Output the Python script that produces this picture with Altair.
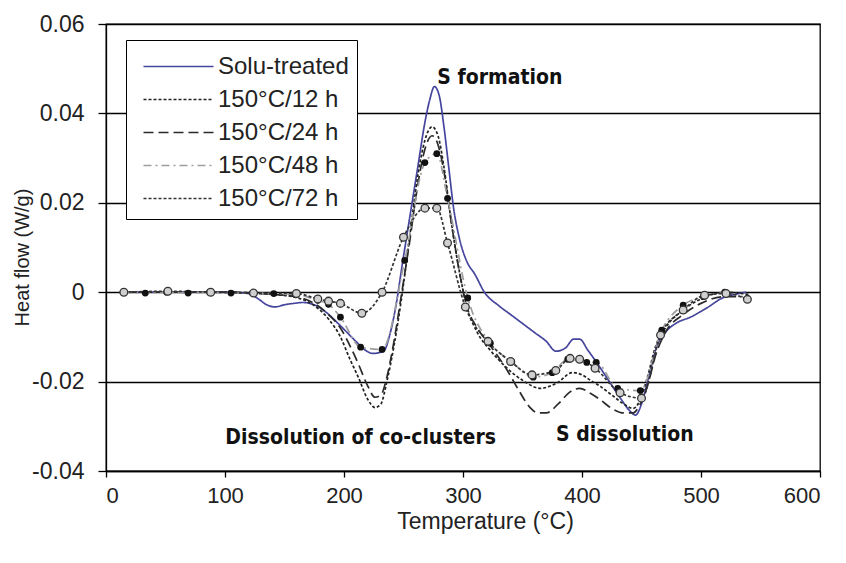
import altair as alt
import pandas as pd

SERIES = ["Solu-treated", "150°C/12 h", "150°C/24 h", "150°C/48 h", "150°C/72 h"]
COLORS = ["#45459e", "#222222", "#2a2a2a", "#9e9e9e", "#333333"]
DASHES = [[1, 0], [3, 2], [10, 5], [8, 4, 2, 4], [3, 2]]

T_solu = [15, 40, 70, 100, 120, 128, 135, 142, 150, 158, 165, 175, 185, 197, 210, 218, 224, 230, 234,
          238, 243, 250, 256, 262, 268, 272, 276, 280, 284, 288, 292, 297, 303, 310, 318, 330, 340, 350,
          360, 370, 378, 386, 393, 398, 405, 413, 423, 433, 440, 445, 450, 456, 463, 470, 480, 491, 505,
          518, 530, 538]
V_solu = [0, 0, 0, 0, -0.0003, -0.0015, -0.0028, -0.0033, -0.0028, -0.0025, -0.0023, -0.0028, -0.0045,
          -0.0075, -0.011, -0.013, -0.0137, -0.0135, -0.013, -0.010, -0.004, 0.008, 0.018, 0.028, 0.038,
          0.043, 0.046, 0.044, 0.037, 0.028, 0.019, 0.012, 0.007, 0.004, 0.0, -0.003, -0.005, -0.007,
          -0.009, -0.011, -0.0132, -0.0125, -0.0105, -0.0105, -0.013, -0.016, -0.020, -0.024, -0.0265,
          -0.0275, -0.025, -0.019, -0.012, -0.009, -0.0068, -0.0056, -0.0035, -0.0013, -0.0004, 0.0]

T_12 = [15, 50, 100, 140, 160, 175, 187, 197, 205, 212, 220, 226, 231, 236, 242, 248, 255, 262, 268, 274,
        279, 284, 290, 296, 303, 312, 323, 335, 350, 365, 379, 392, 400, 407, 415, 425, 435, 443, 449, 455,
        462, 470, 485, 500, 520, 540]
V_12 = [0, 0, 0, -0.0005, -0.0012, -0.003, -0.006, -0.010, -0.015, -0.019, -0.024, -0.0258, -0.025, -0.020,
        -0.012, -0.002, 0.012, 0.026, 0.034, 0.037, 0.035, 0.028, 0.016, 0.006, -0.003, -0.009, -0.013,
        -0.0165, -0.0197, -0.0215, -0.0203, -0.018, -0.0185, -0.0197, -0.021, -0.023, -0.025, -0.026,
        -0.024, -0.019, -0.012, -0.008, -0.004, -0.0015, 0.0, -0.0005]

T_24 = [15, 50, 100, 140, 160, 175, 187, 197, 205, 212, 220, 226, 231, 236, 242, 248, 255, 262, 268, 274,
        279, 284, 290, 296, 303, 312, 323, 337, 347, 356, 363, 370, 380, 390, 398, 407, 415, 425, 435, 443,
        449, 455, 462, 470, 485, 500, 520, 535]
V_24 = [0, 0, 0, -0.0005, -0.001, -0.0025, -0.005, -0.008, -0.012, -0.016, -0.021, -0.0235, -0.023, -0.019,
        -0.011, -0.001, 0.011, 0.024, 0.032, 0.035, 0.033, 0.027, 0.016, 0.006, -0.003, -0.008, -0.012,
        -0.0174, -0.022, -0.0257, -0.027, -0.027, -0.025, -0.0223, -0.0215, -0.0226, -0.024, -0.026,
        -0.027, -0.027, -0.025, -0.021, -0.014, -0.009, -0.005, -0.0025, -0.001, -0.001]

T_48 = [15, 33, 51, 69, 87, 105, 123, 141, 159, 178, 187, 197, 214, 232, 251, 268, 278, 287, 304, 323, 341,
        359, 375, 388, 404, 412, 430, 449, 467, 485, 502, 520]
V_48 = [0, -0.0002, 0, -0.0002, 0, -0.0002, -0.0002, -0.0003, -0.0005, -0.0018, -0.0027, -0.0056, -0.0123,
        -0.0128, 0.0071, 0.029, 0.031, 0.021, -0.0013, -0.0114, -0.0156, -0.019, -0.018, -0.015, -0.0157,
        -0.0157, -0.0215, -0.022, -0.0085, -0.0029, -0.001, 0.0]

T_72 = [15, 52, 88, 124, 160, 178, 187, 197, 215, 232, 250, 268, 278, 287, 302, 321, 340, 358, 378, 390,
        398, 411, 432, 450, 466, 485, 503, 521, 539]
V_72 = [0, 0.0002, 0, -0.0002, -0.0003, -0.0015, -0.002, -0.0025, -0.0047, 0.0, 0.0123, 0.0188, 0.0188,
        0.011, -0.0033, -0.011, -0.0155, -0.0185, -0.0175, -0.0148, -0.015, -0.017, -0.0225, -0.0237,
        -0.0096, -0.004, -0.0007, -0.0003, -0.0016]

X_TICKS = [0, 100, 200, 300, 400, 500, 600]
Y_TICKS = [-0.04, -0.02, 0, 0.02, 0.04, 0.06]

NOTE_TEXT = ["S formation", "Dissolution of co-clusters", "S dissolution"]
NOTE_T = [331, 214, 436]
NOTE_V = [0.048, -0.0326, -0.032]

frames = []
for name, T, V in zip(SERIES, [T_solu, T_12, T_24, T_48, T_72], [V_solu, V_12, V_24, V_48, V_72]):
    frames.append(pd.DataFrame({"series": name, "T": T, "v": V}))
df = pd.concat(frames, ignore_index=True)
df48 = pd.DataFrame({"T": T_48, "v": V_48})
df72 = pd.DataFrame({"T": T_72, "v": V_72})
notes = pd.DataFrame({"label": NOTE_TEXT, "T": NOTE_T, "v": NOTE_V})

xs = alt.Scale(domain=[0, 600], nice=False, zero=False)
ys = alt.Scale(domain=[-0.04, 0.06], nice=False, zero=False)

x_axis = alt.Axis(values=X_TICKS, grid=False, title="Temperature  (°C)", labelFontSize=22,
                  labelFont="Liberation Sans", labelPadding=8, tickSize=6,
                  titleFontSize=23, titleFont="Liberation Sans", titleFontWeight="normal",
                  titleX=379, titleY=50, titleBaseline="middle", titleAlign="center")
y_axis = alt.Axis(values=Y_TICKS, grid=True, gridColor="#000000", gridOpacity=1, gridWidth=1.3,
                  title="Heat flow (W/g)", tickSize=8, labelPadding=14, labelFontSize=23,
                  labelFont="Liberation Sans",
                  labelExpr="datum.value == 0 ? '0' : (datum.value < 0 ? '-' + format(-datum.value, '.2f') : format(datum.value, '.2f'))",
                  titleFontSize=20, titleFont="Liberation Sans", titleFontWeight="normal",
                  titleX=-84, titleY=233, titleAngle=-90, titleAlign="center", titleBaseline="middle")

x = alt.X("T:Q", scale=xs, axis=x_axis)
y = alt.Y("v:Q", scale=ys, axis=y_axis)

lines = alt.Chart(df).mark_line(interpolate="monotone", strokeWidth=1.7).encode(
    x=x, y=y,
    color=alt.Color("series:N", sort=SERIES, scale=alt.Scale(domain=SERIES, range=COLORS),
                    legend=alt.Legend(title=None)),
    strokeDash=alt.StrokeDash("series:N", sort=SERIES, scale=alt.Scale(domain=SERIES, range=DASHES),
                              legend=alt.Legend(title=None)),
)

pts48 = alt.Chart(df48).mark_circle(size=46, color="#111111", opacity=1).encode(
    x=alt.X("T:Q", scale=xs), y=alt.Y("v:Q", scale=ys))
pts72 = alt.Chart(df72).mark_circle(size=60, fill="#cfcfcf", stroke="#333333", strokeWidth=1.3,
                                    opacity=1, fillOpacity=1).encode(
    x=alt.X("T:Q", scale=xs), y=alt.Y("v:Q", scale=ys))

text = alt.Chart(notes).mark_text(font="Liberation Sans Narrow, DejaVu Sans Condensed, sans-serif",
                                  fontWeight="bold", fontSize=21, color="#111111",
                                  align="center", baseline="middle").encode(
    x=alt.X("T:Q", scale=xs), y=alt.Y("v:Q", scale=ys), text="label:N")

chart = alt.layer(lines, pts48, pts72, text).properties(
    width=714, height=447,
    autosize=alt.AutoSizeParams(type="none"),
    padding={"left": 98, "top": 16, "right": 10, "bottom": 75},
).configure_view(stroke="#000000", strokeWidth=1.3).configure_axis(
    domainColor="#000000", tickColor="#000000", labelColor="#222222", titleColor="#222222",
    domainWidth=1.3, tickWidth=1.3,
).configure_legend(
    orient="none", legendX=20, legendY=16, strokeColor="#000000", fillColor="#ffffff",
    padding=8, symbolType="M-2,0H2", symbolSize=1225, symbolStrokeWidth=1.7, rowPadding=2,
    symbolOffset=26, labelOffset=21,
    labelFontSize=24, labelFont="Liberation Sans", labelColor="#222222", labelLimit=400,
)

chart.save("out.html", embed_options={"renderer": "svg", "actions": False})
